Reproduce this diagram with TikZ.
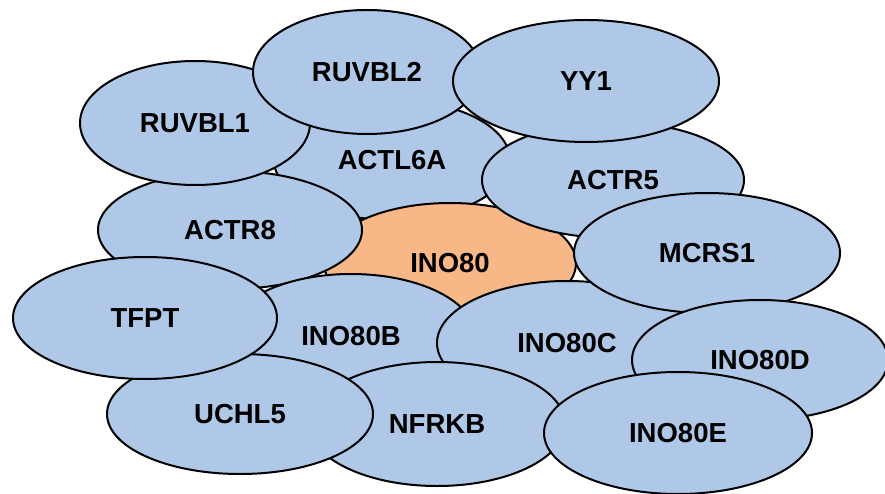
\documentclass[tikz,border=0pt]{standalone}
\usepackage{fontspec}
\setmainfont{Liberation Sans}
\usetikzlibrary{shapes.geometric}
\definecolor{subunit}{HTML}{B0C8E8}
\definecolor{coreunit}{HTML}{F8B787}
\tikzset{
  sub/.style={ellipse, draw=black, line width=2pt, fill=subunit, inner sep=0pt,
    font=\fontsize{27.5}{32}\selectfont\bfseries, text=black},
  core/.style={sub, fill=coreunit}
}
\begin{document}
\begin{tikzpicture}[x=1pt, y=-1pt]
  \fill[white] (0,0) rectangle (885,494);
  \useasboundingbox (0,0) rectangle (885,494);
  % subunits, drawn from back to front
  \node[sub,  minimum width=236pt, minimum height=120pt] (actl6a) at (392,160) {ACTL6A};
  \node[core, minimum width=252pt, minimum height=120pt] (ino80)  at (450,263) {INO80};
  \node[sub,  minimum width=262pt, minimum height=116pt] (actr5)  at (613,180) {ACTR5};
  \node[sub,  minimum width=264pt, minimum height=118pt] (actr8)  at (230,230) {ACTR8};
  \node[sub,  minimum width=230pt, minimum height=124pt] (ruvbl1) at (195,123) {RUVBL1};
  \node[sub,  minimum width=228pt, minimum height=124pt] (ruvbl2) at (367,72)  {RUVBL2};
  \node[sub,  minimum width=266pt, minimum height=122pt] (yy1)    at (586,81)  {YY1};
  \node[sub,  minimum width=248pt, minimum height=124pt] (ino80b) at (351,336) {INO80B};
  \node[sub,  minimum width=260pt, minimum height=124pt] (ino80c) at (567,343) {INO80C};
  \node[sub,  minimum width=266pt, minimum height=120pt] (mcrs1)  at (707,253) {MCRS1};
  \node[sub,  minimum width=256pt, minimum height=120pt] (ino80d) at (760,360) {INO80D};
  \node[sub,  minimum width=256pt, minimum height=124pt] (nfrkb)  at (437,424) {NFRKB};
  \node[sub,  minimum width=266pt, minimum height=120pt] (uchl5)  at (240,414) {UCHL5};
  \node[sub,  minimum width=264pt, minimum height=122pt] (tfpt)   at (145,318) {TFPT};
  \node[sub,  minimum width=268pt, minimum height=122pt] (ino80e) at (678,433) {INO80E};
\end{tikzpicture}
\end{document}
